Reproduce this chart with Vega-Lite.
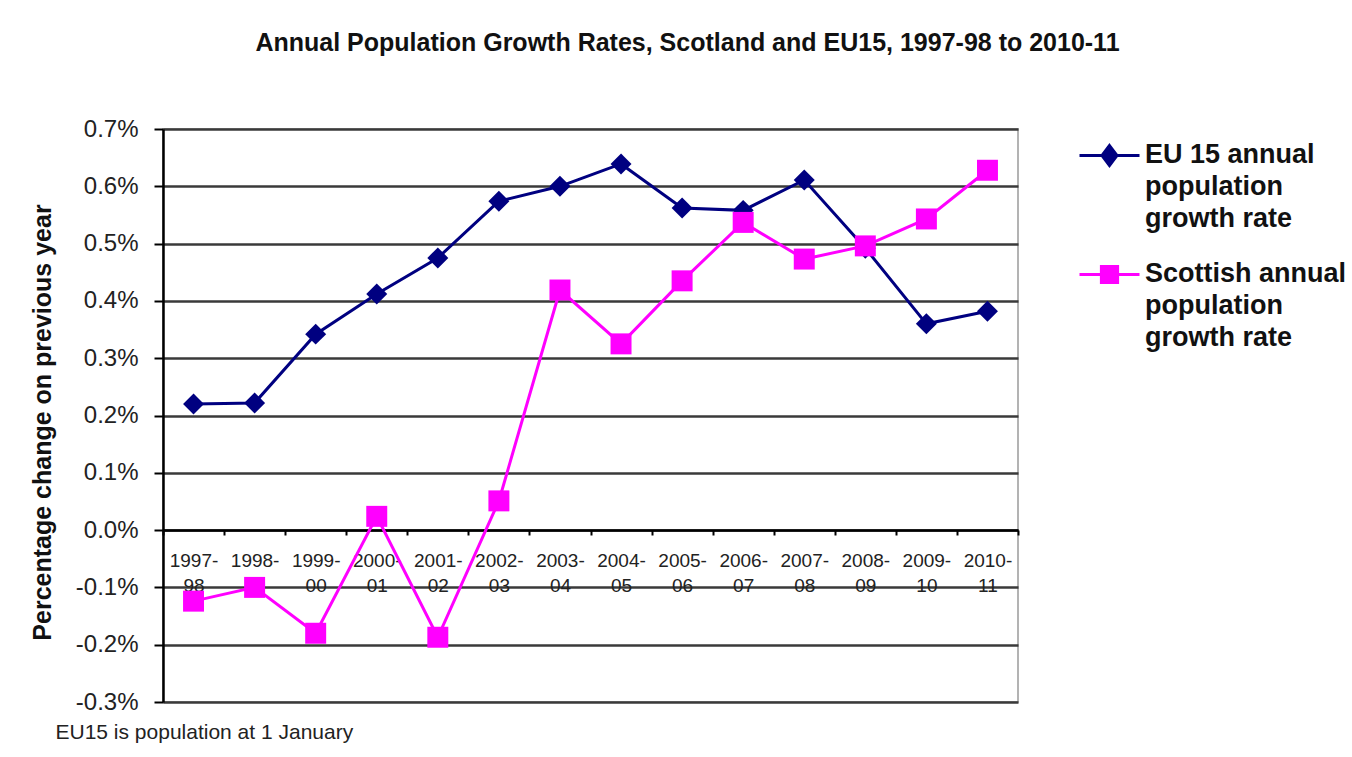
{
  "$schema": "https://vega.github.io/schema/vega-lite/v6.json",
  "autosize": {"type": "none"},
  "padding": {"left": 163, "top": 129, "right": 334, "bottom": 55},
  "width": 855,
  "height": 573,
  "background": "white",
  "title": {
    "text": "Annual Population Growth Rates, Scotland and EU15, 1997-98 to 2010-11",
    "font": "Liberation Sans",
    "fontSize": 25,
    "fontWeight": "bold",
    "color": "#111111",
    "anchor": "middle",
    "dx": 97,
    "baseline": "alphabetic",
    "offset": 41
  },
  "config": {
    "view": {"stroke": "#9a9a9a", "strokeWidth": 1.5},
    "font": "Liberation Sans"
  },
  "data": {
    "values": [
      {"period": "1997-98", "series": "EU 15 annual population growth rate", "value": 0.00220},
      {"period": "1998-99", "series": "EU 15 annual population growth rate", "value": 0.00222},
      {"period": "1999-00", "series": "EU 15 annual population growth rate", "value": 0.00342},
      {"period": "2000-01", "series": "EU 15 annual population growth rate", "value": 0.00412},
      {"period": "2001-02", "series": "EU 15 annual population growth rate", "value": 0.00475},
      {"period": "2002-03", "series": "EU 15 annual population growth rate", "value": 0.00574},
      {"period": "2003-04", "series": "EU 15 annual population growth rate", "value": 0.00600},
      {"period": "2004-05", "series": "EU 15 annual population growth rate", "value": 0.00639},
      {"period": "2005-06", "series": "EU 15 annual population growth rate", "value": 0.00562},
      {"period": "2006-07", "series": "EU 15 annual population growth rate", "value": 0.00558},
      {"period": "2007-08", "series": "EU 15 annual population growth rate", "value": 0.00611},
      {"period": "2008-09", "series": "EU 15 annual population growth rate", "value": 0.00492},
      {"period": "2009-10", "series": "EU 15 annual population growth rate", "value": 0.00360},
      {"period": "2010-11", "series": "EU 15 annual population growth rate", "value": 0.00382},
      {"period": "1997-98", "series": "Scottish annual population growth rate", "value": -0.00124},
      {"period": "1998-99", "series": "Scottish annual population growth rate", "value": -0.00100},
      {"period": "1999-00", "series": "Scottish annual population growth rate", "value": -0.00180},
      {"period": "2000-01", "series": "Scottish annual population growth rate", "value": 0.00024},
      {"period": "2001-02", "series": "Scottish annual population growth rate", "value": -0.00187},
      {"period": "2002-03", "series": "Scottish annual population growth rate", "value": 0.00051},
      {"period": "2003-04", "series": "Scottish annual population growth rate", "value": 0.00419},
      {"period": "2004-05", "series": "Scottish annual population growth rate", "value": 0.00325},
      {"period": "2005-06", "series": "Scottish annual population growth rate", "value": 0.00435},
      {"period": "2006-07", "series": "Scottish annual population growth rate", "value": 0.00537},
      {"period": "2007-08", "series": "Scottish annual population growth rate", "value": 0.00473},
      {"period": "2008-09", "series": "Scottish annual population growth rate", "value": 0.00496},
      {"period": "2009-10", "series": "Scottish annual population growth rate", "value": 0.00543},
      {"period": "2010-11", "series": "Scottish annual population growth rate", "value": 0.00628}
    ]
  },
  "encoding": {
    "x": {
      "field": "period",
      "type": "nominal",
      "sort": null,
      "scale": {"type": "band", "paddingInner": 0, "paddingOuter": 0},
      "axis": {
        "title": "EU15 is population at 1 January",
        "titleX": -108,
        "titleY": 202,
        "titleAlign": "left",
        "titleBaseline": "middle",
        "titleAnchor": null,
        "titleFont": "Liberation Sans",
        "titleFontSize": 21,
        "titleFontWeight": "normal",
        "titleColor": "#222222",
        "offset": -172,
        "labelAngle": 0,
        "labelFont": "Liberation Sans",
        "labelFontSize": 19,
        "labelColor": "#222222",
        "labelLineHeight": 25,
        "labelPadding": 16,
        "labelExpr": "[slice(datum.label, 0, 5), slice(datum.label, 5)]",
        "tickBand": "extent",
        "tickSize": 5,
        "tickColor": "#000000",
        "tickWidth": 2,
        "domainColor": "#000000",
        "domainWidth": 2.5,
        "grid": false
      }
    },
    "y": {
      "field": "value",
      "type": "quantitative",
      "scale": {"domain": [-0.003, 0.007], "nice": false, "zero": false},
      "axis": {
        "title": "Percentage change on previous year",
        "titleFont": "Liberation Sans",
        "titleFontSize": 25,
        "titleFontWeight": "bold",
        "titleColor": "#111111",
        "titleX": -121,
        "titleY": 293,
        "titleAngle": -90,
        "titleAlign": "center",
        "titleBaseline": "middle",
        "values": [-0.003, -0.002, -0.001, 0, 0.001, 0.002, 0.003, 0.004, 0.005, 0.006, 0.007],
        "format": ".1%",
        "labelExpr": "replace(datum.label, '\u2212', '-')",
        "labelFont": "Liberation Sans",
        "labelFontSize": 24,
        "labelColor": "#222222",
        "labelPadding": 16,
        "tickSize": 9,
        "tickColor": "#000000",
        "tickWidth": 2,
        "domainColor": "#000000",
        "domainWidth": 2.5,
        "grid": true,
        "gridColor": "#3a3a3a",
        "gridWidth": 2.5
      }
    }
  },
  "layer": [
    {
      "mark": {"type": "line", "strokeWidth": 3},
      "encoding": {
        "color": {
          "field": "series",
          "type": "nominal",
          "scale": {
            "domain": ["EU 15 annual population growth rate", "Scottish annual population growth rate"],
            "range": ["#000080", "#FF00FF"]
          },
          "legend": {
            "orient": "none",
            "legendX": 915,
            "legendY": -5,
            "title": null,
            "padding": 0,
            "symbolSize": 3600,
            "symbolStrokeWidth": 3,
            "labelFont": "Liberation Sans",
            "labelFontSize": 27,
            "labelFontWeight": "bold",
            "labelColor": "#111111",
            "labelBaseline": "top",
            "labelOffset": 4,
            "labelLimit": 0,
            "rowPadding": 11,
            "labelExpr": "datum.label == 'EU 15 annual population growth rate' ? ['EU 15 annual', 'population', 'growth rate'] : ['Scottish annual', 'population', 'growth rate']",
            "encode": {
              "symbols": {
                "update": {
                  "shape": {"signal": "datum.value == 'EU 15 annual population growth rate' ? 'M-1,0H1M0,-0.33L0.25,0L0,0.33L-0.25,0Z' : 'M-1,0H1M-0.27,-0.27H0.27V0.27H-0.27Z'"},
                  "fill": {"scale": "color", "field": "value"},
                  "stroke": {"scale": "color", "field": "value"},
                  "strokeWidth": {"value": 3}
                }
              },
              "labels": {
                "update": {"dy": {"value": -14}, "lineHeight": {"value": 32}}
              }
            }
          }
        }
      }
    },
    {
      "mark": {"type": "point", "filled": true, "opacity": 1, "strokeWidth": 0},
      "encoding": {
        "color": {"field": "series", "type": "nominal", "legend": null},
        "shape": {
          "condition": {"test": "datum.series == 'Scottish annual population growth rate'", "value": "square"},
          "value": "diamond"
        },
        "size": {"value": 440}
      }
    }
  ]
}
